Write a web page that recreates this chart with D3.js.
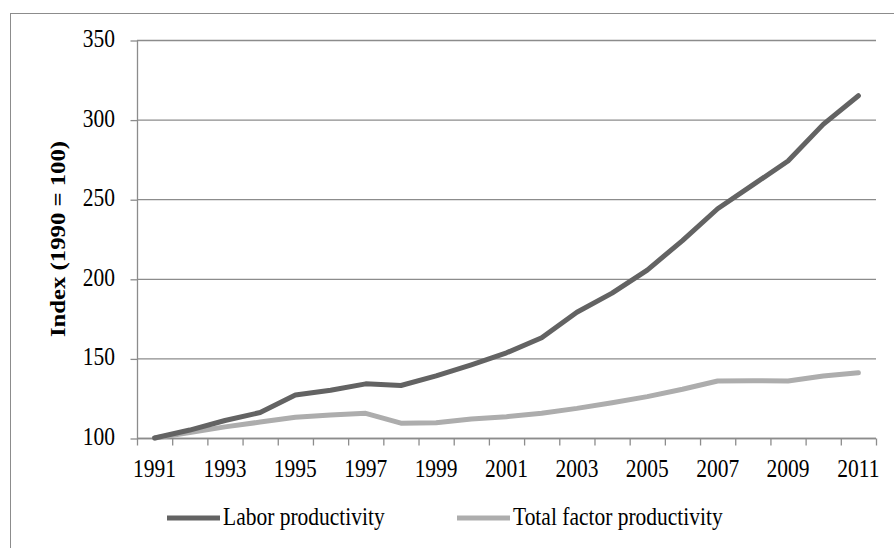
<!DOCTYPE html>
<html>
<head>
<meta charset="utf-8">
<script src="https://cdn.jsdelivr.net/npm/d3@7"></script>
<style>
  body { margin: 0; background: #fff; }
  text { font-family: "Liberation Serif", "Times New Roman", serif; fill: #000; }
</style>
</head>
<body>
<div id="chart"></div>
<script>
/* Data. */
const years = d3.range(1991, 2012)
const laborProductivity = [100, 105, 111, 116, 127, 130, 134, 133, 139, 146, 153.5, 163, 179, 191, 205.5, 224, 244, 259, 274, 297, 315]
const tfProductivity = [100, 103.5, 107, 110, 113, 114.5, 115.5, 109.3, 109.6, 112, 113.4, 115.5, 118.6, 122.2, 126, 130.6, 135.8, 136, 135.8, 139, 141]
const yTicks = [100, 150, 200, 250, 300, 350]
const seriesNames = ["Labor productivity", "Total factor productivity"]
const seriesColors = ["#636363", "#adadad"]

const width = 894
const height = 548
const fontSize = 21.5
const stretch = 1.15 // the text in the picture is a bit taller than it is wide

const svg = d3.select("#chart")
  .append("svg")
  .attr("width", width)
  .attr("height", height)

/* Outer frame, it runs off the right and bottom edges. */
svg.append("rect")
  .attr("x", 10.5)
  .attr("y", 13.5)
  .attr("width", 900)
  .attr("height", 560)
  .attr("fill", "none")
  .attr("stroke", "#8c8c8c")
  .attr("stroke-width", 1)

const plotLeft = 137
const plotRight = 876
const plotTop = 40
const plotBottom = 438

const x = d3.scaleBand()
  .domain(years)
  .range([plotLeft, plotRight])

const y = d3.scaleLinear()
  .domain([100, 350])
  .range([plotBottom, plotTop])

/* Put a stretched text label at (px, py). */
function label(parent, px, py, str, anchor) {
  parent.append("g")
    .attr("transform", `translate(${px},${py}) scale(1,${stretch})`)
    .append("text")
    .attr("text-anchor", anchor)
    .attr("font-size", fontSize)
    .text(str)
}

/* Grid lines. */
svg.append("g")
  .selectAll("line")
  .data(yTicks)
  .enter()
  .append("line")
  .attr("x1", plotLeft)
  .attr("x2", plotRight)
  .attr("y1", d => y(d) + 0.5)
  .attr("y2", d => y(d) + 0.5)
  .attr("stroke", "#8c8c8c")
  .attr("stroke-width", 1.3)

/* Y axis. */
const yAxis = svg.append("g")
  .attr("transform", `translate(${plotLeft + 0.5},0.5)`)
  .call(d3.axisLeft(y).tickValues(yTicks).tickSize(7).tickFormat(""))
yAxis.selectAll("path, line").attr("stroke", "#8c8c8c").attr("stroke-width", 1.3)
yAxis.select(".domain").attr("d", `M0,${plotTop}V${plotBottom}`)
yTicks.forEach(d => label(svg, plotLeft - 22, y(d) + 7, d, "end"))

/* X axis with ticks on category boundaries. */
const xAxisG = svg.append("g")
  .attr("transform", `translate(0,${plotBottom + 0.5})`)
xAxisG.append("line")
  .attr("x1", plotLeft)
  .attr("x2", plotRight)
  .attr("stroke", "#8c8c8c")
  .attr("stroke-width", 1.3)
xAxisG.selectAll(".tick-mark")
  .data(years.concat([null]))
  .enter()
  .append("line")
  .attr("class", "tick-mark")
  .attr("x1", d => (d === null ? plotRight : x(d)) + 0.5)
  .attr("x2", d => (d === null ? plotRight : x(d)) + 0.5)
  .attr("y1", 0)
  .attr("y2", 7)
  .attr("stroke", "#8c8c8c")
  .attr("stroke-width", 1.3)
years.filter((d, i) => i % 2 === 0)
  .forEach(d => label(svg, x(d) + x.bandwidth() / 2, 477, d, "middle"))

/* Y axis title. */
svg.append("g")
  .attr("transform", `translate(65,${(plotTop + plotBottom) / 2}) scale(1,${stretch}) rotate(-90)`)
  .append("text")
  .attr("text-anchor", "middle")
  .attr("font-size", 21.5)
  .attr("font-weight", "bold")
  .text("Index (1990 = 100)")

/* Lines. */
const line = d3.line()
  .x((d, i) => x(years[i]) + x.bandwidth() / 2)
  .y(d => y(d))

svg.selectAll(".series")
  .data([laborProductivity, tfProductivity].reverse())
  .enter()
  .append("path")
  .attr("class", "series")
  .attr("d", line)
  .attr("fill", "none")
  .attr("stroke", (d, i) => seriesColors[1 - i])
  .attr("stroke-width", 5)
  .attr("stroke-linecap", "round")
  .attr("stroke-linejoin", "round")

/* Legend. */
const legendX = [167, 457]
const legend = svg.append("g")
legend.selectAll("line")
  .data(seriesNames)
  .enter()
  .append("line")
  .attr("x1", (d, i) => legendX[i])
  .attr("x2", (d, i) => legendX[i] + 53)
  .attr("y1", 518)
  .attr("y2", 518)
  .attr("stroke", (d, i) => seriesColors[i])
  .attr("stroke-width", 5)
seriesNames.forEach((d, i) => label(legend, legendX[i] + 56, 525, d, "start"))
</script>
</body>
</html>
